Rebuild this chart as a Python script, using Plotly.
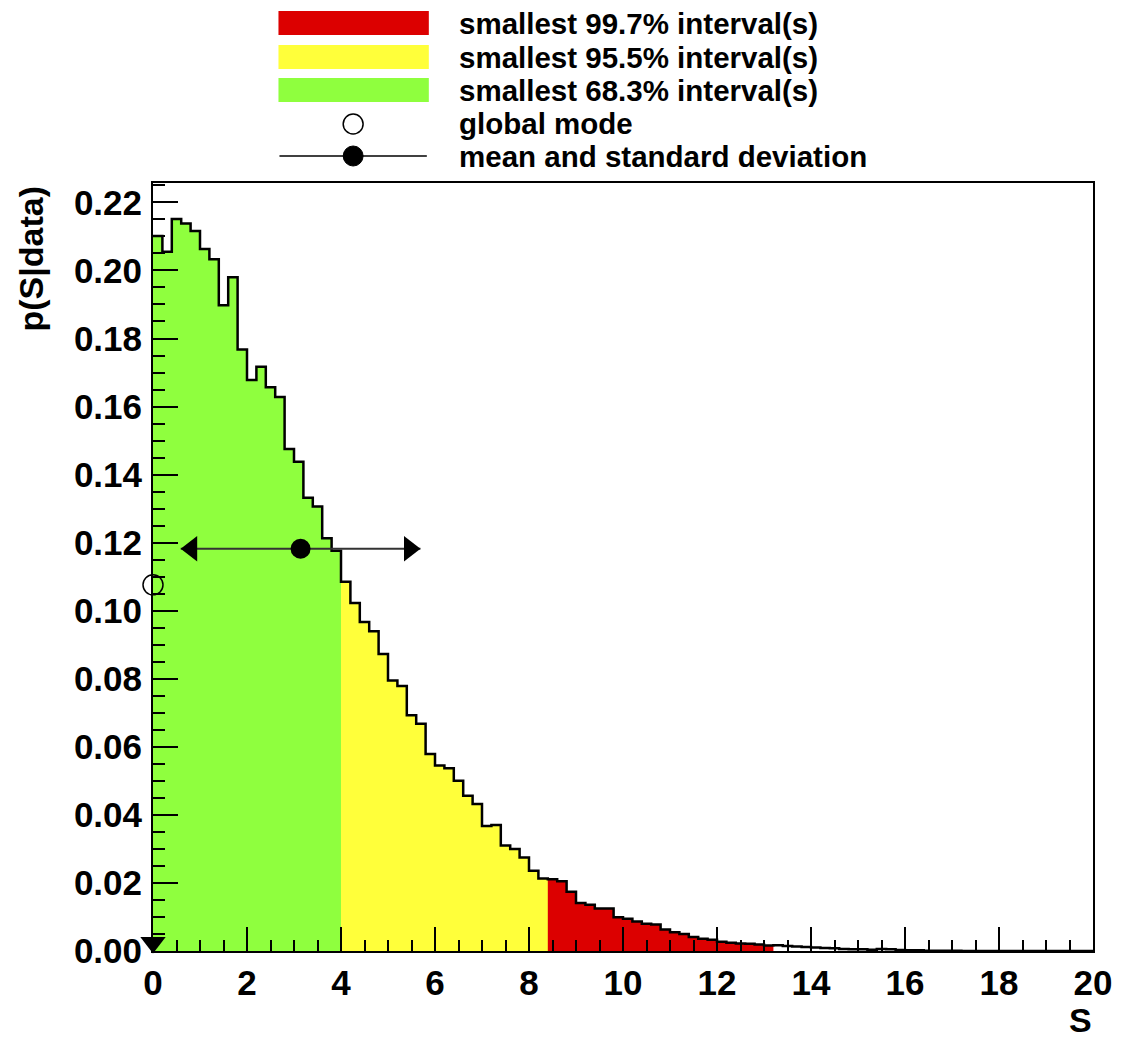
import plotly.graph_objects as go

# ---------------- data ----------------
bin_width = 0.2
x_min = 0.0
values = [
    0.2101, 0.2055, 0.2151, 0.2138, 0.2116, 0.2063, 0.2033, 0.1898, 0.1980, 0.1768,
    0.1678, 0.1717, 0.1657, 0.1628, 0.1475, 0.1438, 0.1332, 0.1306, 0.1213, 0.1176,
    0.1085, 0.1023, 0.0967, 0.0940, 0.0873, 0.0795, 0.0779, 0.0693, 0.0668, 0.0579,
    0.0545, 0.0537, 0.0500, 0.0456, 0.0432, 0.0367, 0.0370, 0.0310, 0.0300, 0.0275,
    0.0236, 0.0213, 0.0211, 0.0205, 0.0174, 0.0141, 0.0136, 0.0125, 0.0125, 0.0099,
    0.0095, 0.0087, 0.0080, 0.0078, 0.0063, 0.0055, 0.0050, 0.0041, 0.0036, 0.0033,
    0.0027, 0.0024, 0.0022, 0.0021, 0.0019, 0.0016, 0.0017, 0.0015, 0.0013, 0.0012,
    0.0010, 0.0009, 0.0008, 0.0006, 0.0005, 0.0005, 0.0004, 0.0006, 0.0005, 0.0003,
    0.0002, 0.0002, 0.0001, 0.0001, 0.0001, 0.0001, 0.0000, 0.0000, 0.0000, 0.0000,
    0.0000, 0.0000, 0.0000, 0.0000, 0.0000, 0.0000, 0.0000, 0.0000, 0.0000, 0.0000,
]
interval_997 = [0.0, 13.2]
interval_955 = [0.0, 8.4]
interval_683 = [0.0, 4.0]
mean_value = 3.14
std_value = 2.55
mean_marker_y = 0.1182
mode_value = 0.0
mode_marker_y = 0.1076
mode_arrow_y = 0.0025

legend_labels = [
    "smallest 99.7% interval(s)",
    "smallest 95.5% interval(s)",
    "smallest 68.3% interval(s)",
    "global mode",
    "mean and standard deviation",
]

RED = "#DC0000"
YELLOW = "#FFFF3A"
GREEN = "#8FFF3E"
FONT = "Liberation Sans, Arial, Helvetica, sans-serif"

n = len(values)
edges = [x_min + i * bin_width for i in range(n + 1)]

# layout geometry (pixels)
L, T, W, H = 153, 183, 944, 768
X_RANGE = [0, 20]
Y_RANGE = [0, 0.2257]
px_per_x = W / (X_RANGE[1] - X_RANGE[0])
ARROW_SIZE = 22


def region_trace(lo, hi, color):
    xs, ys = [], []
    for i in range(n):
        c = edges[i] + bin_width / 2
        if lo <= c < hi:
            xs.append(edges[i])
            ys.append(values[i])
    xs.append(xs[-1] + bin_width)
    ys.append(ys[-1])
    return go.Scatter(x=xs, y=ys, mode="lines", line=dict(shape="hv", width=0, color=color),
                      fill="tozeroy", fillcolor=color, hoverinfo="skip", showlegend=False)


fig = go.Figure()
fig.add_trace(region_trace(*interval_997, RED))
fig.add_trace(region_trace(*interval_955, YELLOW))
fig.add_trace(region_trace(*interval_683, GREEN))

# histogram outline
fig.add_trace(go.Scatter(x=edges, y=values + [values[-1]], mode="lines",
                         line=dict(shape="hv", width=2.5, color="black"),
                         hoverinfo="skip", showlegend=False))

# mean +- std arrow (arrow tips end at mean +- std)
lo_end = mean_value - std_value
hi_end = mean_value + std_value
half_head = (ARROW_SIZE / 2) / px_per_x
fig.add_trace(go.Scatter(x=[lo_end, hi_end], y=[mean_marker_y, mean_marker_y], mode="lines",
                         line=dict(color="#333333", width=2), showlegend=False, cliponaxis=False))
fig.add_trace(go.Scatter(x=[lo_end + half_head, hi_end - half_head],
                         y=[mean_marker_y, mean_marker_y], mode="markers",
                         marker=dict(symbol=["triangle-left", "triangle-right"], size=ARROW_SIZE, color="black"),
                         showlegend=False, cliponaxis=False))
fig.add_trace(go.Scatter(x=[mean_value], y=[mean_marker_y], mode="markers",
                         marker=dict(symbol="circle", size=20, color="black"),
                         showlegend=False, cliponaxis=False))
# global mode
fig.add_trace(go.Scatter(x=[mode_value], y=[mode_marker_y], mode="markers",
                         marker=dict(symbol="circle-open", size=20, color="black", line=dict(width=1.5)),
                         showlegend=False, cliponaxis=False))
fig.add_trace(go.Scatter(x=[mode_value], y=[mode_arrow_y], mode="markers",
                         marker=dict(symbol="triangle-down", size=22, color="black"),
                         showlegend=False, cliponaxis=False))

# ---------------- manual legend ----------------


def px(xp):
    return (xp - L) / W


def py(yp):
    return (T + H - yp) / H


row_y = [23, 57, 90, 124, 156]
box_x0, box_x1 = 279, 430
sym_x = 354
text_x = 458
shapes = []
for color, ry in zip([RED, YELLOW, GREEN], row_y[:3]):
    shapes.append(dict(type="rect", xref="paper", yref="paper",
                       x0=px(box_x0), x1=px(box_x1), y0=py(ry + 12), y1=py(ry - 12),
                       fillcolor=color, line=dict(width=0)))
shapes.append(dict(type="circle", xref="paper", yref="paper",
                   x0=px(sym_x - 10), x1=px(sym_x + 10), y0=py(row_y[3] + 10), y1=py(row_y[3] - 10),
                   fillcolor="white", line=dict(color="black", width=1.5)))
shapes.append(dict(type="line", xref="paper", yref="paper",
                   x0=px(280), x1=px(428), y0=py(row_y[4]), y1=py(row_y[4]),
                   line=dict(color="black", width=1.5)))
shapes.append(dict(type="circle", xref="paper", yref="paper",
                   x0=px(sym_x - 10), x1=px(sym_x + 10), y0=py(row_y[4] + 10), y1=py(row_y[4] - 10),
                   fillcolor="black", line=dict(color="black", width=1)))

annotations = []
for lab, ry in zip(legend_labels, row_y):
    annotations.append(dict(text="<b>%s</b>" % lab, xref="paper", yref="paper",
                            x=px(text_x), y=py(ry), xanchor="left", yanchor="middle",
                            showarrow=False, font=dict(family=FONT, size=29.5, color="black")))
annotations.append(dict(text="<b>p(S|data)</b>", xref="paper", yref="paper",
                        x=px(30), y=py(259), xanchor="center", yanchor="middle", textangle=-90,
                        showarrow=False, font=dict(family=FONT, size=34, color="black")))
annotations.append(dict(text="<b>S</b>", xref="paper", yref="paper",
                        x=px(1084), y=py(1020), xanchor="center", yanchor="middle",
                        showarrow=False, font=dict(family=FONT, size=34, color="black")))

fig.update_layout(
    width=1124, height=1040,
    margin=dict(l=L, r=1124 - L - W, t=T, b=1040 - T - H),
    paper_bgcolor="white", plot_bgcolor="white",
    shapes=shapes, annotations=annotations, showlegend=False,
    font=dict(family=FONT),
)
fig.update_xaxes(range=X_RANGE, dtick=2, tick0=0, ticks="inside", ticklen=24, tickwidth=2,
                 tickcolor="black", showgrid=False, zeroline=False, showline=True, mirror=True,
                 linecolor="black", linewidth=2,
                 tickfont=dict(family=FONT, size=35, color="black", weight="bold"),
                 minor=dict(dtick=0.5, ticks="inside", ticklen=11, tickwidth=2, tickcolor="black"))
fig.update_yaxes(range=Y_RANGE, dtick=0.02, tick0=0, tickformat=".2f", ticks="inside", ticklen=25,
                 tickwidth=2, tickcolor="black", showgrid=False, zeroline=False, showline=True,
                 mirror=True, linecolor="black", linewidth=2, ticklabelstandoff=2,
                 tickfont=dict(family=FONT, size=35, color="black", weight="bold"),
                 minor=dict(dtick=0.005, ticks="inside", ticklen=12, tickwidth=2, tickcolor="black"))

fig.write_html("out.html")
